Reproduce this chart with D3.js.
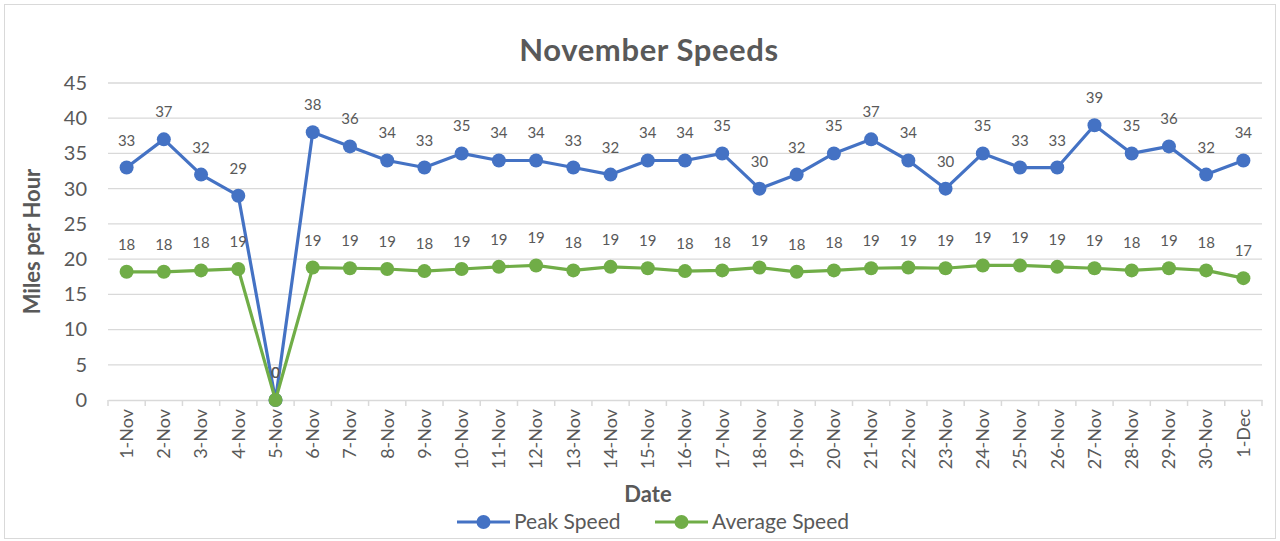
<!DOCTYPE html>
<html>
<head>
<meta charset="utf-8">
<script src="https://cdn.jsdelivr.net/npm/d3@7"></script>
<style>
  body { margin: 0; background: #fff; }
  text { font-family: Lato, "Open Sans", sans-serif; fill: #595959; }
</style>
</head>
<body>
<script>
// Chart data
const dates = ["1-Nov","2-Nov","3-Nov","4-Nov","5-Nov","6-Nov","7-Nov","8-Nov","9-Nov","10-Nov",
  "11-Nov","12-Nov","13-Nov","14-Nov","15-Nov","16-Nov","17-Nov","18-Nov","19-Nov","20-Nov",
  "21-Nov","22-Nov","23-Nov","24-Nov","25-Nov","26-Nov","27-Nov","28-Nov","29-Nov","30-Nov","1-Dec"];
const peakSpeed = [33,37,32,29,0,38,36,34,33,35,34,34,33,32,34,34,35,30,32,35,37,34,30,35,33,33,39,35,36,32,34];
const averageSpeed = [18.2,18.2,18.4,18.6,0,18.8,18.7,18.6,18.3,18.6,18.9,19.1,18.4,18.9,18.7,
  18.3,18.4,18.8,18.2,18.4,18.7,18.8,18.7,19.1,19.1,18.9,18.7,18.4,18.7,18.4,17.3];
const yTicks = [0,5,10,15,20,25,30,35,40,45];

const width = 1280, height = 541;
const margin = { top: 83, right: 18, bottom: 141, left: 108 };

const svg = d3.select("body").append("svg")
  .attr("width", width)
  .attr("height", height);

// outer chart border
svg.append("rect")
  .attr("x", 4.5).attr("y", 4.5)
  .attr("width", 1271).attr("height", 534)
  .attr("fill", "#fff")
  .attr("stroke", "#d9d9d9");

const x = d3.scaleBand()
  .domain(dates)
  .range([margin.left, width - margin.right]);

const y = d3.scaleLinear()
  .domain([0, 45])
  .range([height - margin.bottom, margin.top]);

// gridlines
svg.append("g")
  .selectAll("line")
  .data(yTicks.slice(1))
  .join("line")
  .attr("x1", margin.left).attr("x2", width - margin.right)
  .attr("y1", d => y(d)).attr("y2", d => y(d))
  .attr("stroke", "#d9d9d9")
  .attr("stroke-width", 1.3);

// y axis labels
const yAxis = svg.append("g")
  .attr("transform", `translate(${margin.left},0)`)
  .call(d3.axisLeft(y).tickValues(yTicks).tickSize(0).tickPadding(21));
yAxis.select(".domain").remove();
yAxis.selectAll("text")
  .style("font-size", "20px")
  .attr("fill", "#595959");

// x axis
const xAxis = svg.append("g")
  .attr("transform", `translate(0,${y(0)})`)
  .call(d3.axisBottom(x).tickSize(0));
xAxis.select(".domain").attr("stroke", "#d9d9d9").attr("stroke-width", 1.5);
xAxis.selectAll("text")
  .attr("transform", "rotate(-90)")
  .attr("text-anchor", "end")
  .attr("x", -9)
  .attr("y", 0)
  .attr("dy", "0.35em")
  .style("font-size", "18px")
  .attr("fill", "#595959");

// tick marks at category boundaries
svg.append("g")
  .selectAll("line")
  .data(dates.concat(["end"]))
  .join("line")
  .attr("x1", (d, i) => margin.left + i * x.step())
  .attr("x2", (d, i) => margin.left + i * x.step())
  .attr("y1", y(0)).attr("y2", y(0) + 6)
  .attr("stroke", "#d9d9d9")
  .attr("stroke-width", 1.5);

const cx = d => x(d) + x.bandwidth() / 2;

const series = [
  { name: "Peak Speed", values: peakSpeed, color: "#4472C4" },
  { name: "Average Speed", values: averageSpeed, color: "#70AD47" }
];

series.forEach(s => {
  const line = d3.line()
    .x((d, i) => cx(dates[i]))
    .y(d => y(d));

  svg.append("path")
    .datum(s.values)
    .attr("fill", "none")
    .attr("stroke", s.color)
    .attr("stroke-width", 3.2)
    .attr("stroke-linejoin", "round")
    .attr("d", line);

  svg.append("g")
    .selectAll("circle")
    .data(s.values)
    .join("circle")
    .attr("cx", (d, i) => cx(dates[i]))
    .attr("cy", d => y(d))
    .attr("r", 7)
    .attr("fill", s.color);
});

// data labels above the points
series.forEach(s => {
  svg.append("g")
    .selectAll("text")
    .data(s.values)
    .join("text")
    .attr("x", (d, i) => cx(dates[i]))
    .attr("y", d => y(d) - 22)
    .attr("text-anchor", "middle")
    .style("font-size", "15px")
    .text(d => d3.format(".0f")(d));
});

// title
svg.append("text")
  .attr("x", 649).attr("y", 61)
  .attr("text-anchor", "middle")
  .style("font-size", "31px")
  .style("font-weight", "bold")
  .style("letter-spacing", "0.6px")
  .text("November Speeds");

// axis titles
svg.append("text")
  .attr("transform", `translate(40,${(y(0) + y(45)) / 2}) rotate(-90)`)
  .attr("text-anchor", "middle")
  .style("font-size", "22px")
  .style("font-weight", "bold")
  .text("Miles per Hour");

svg.append("text")
  .attr("x", 648).attr("y", 502)
  .attr("text-anchor", "middle")
  .style("font-size", "22px")
  .style("font-weight", "bold")
  .text("Date");

// legend
const legendX = [457, 655];
const legend = svg.append("g")
  .selectAll("g")
  .data(series)
  .join("g")
  .attr("transform", (d, i) => `translate(${legendX[i]},522)`);

legend.append("line")
  .attr("x1", 0).attr("x2", 53)
  .attr("stroke", d => d.color)
  .attr("stroke-width", 3.2);
legend.append("circle")
  .attr("cx", 26.5).attr("r", 7)
  .attr("fill", d => d.color);
legend.append("text")
  .attr("x", 57).attr("dy", "0.35em")
  .style("font-size", "21px")
  .text(d => d.name);
</script>
</body>
</html>
